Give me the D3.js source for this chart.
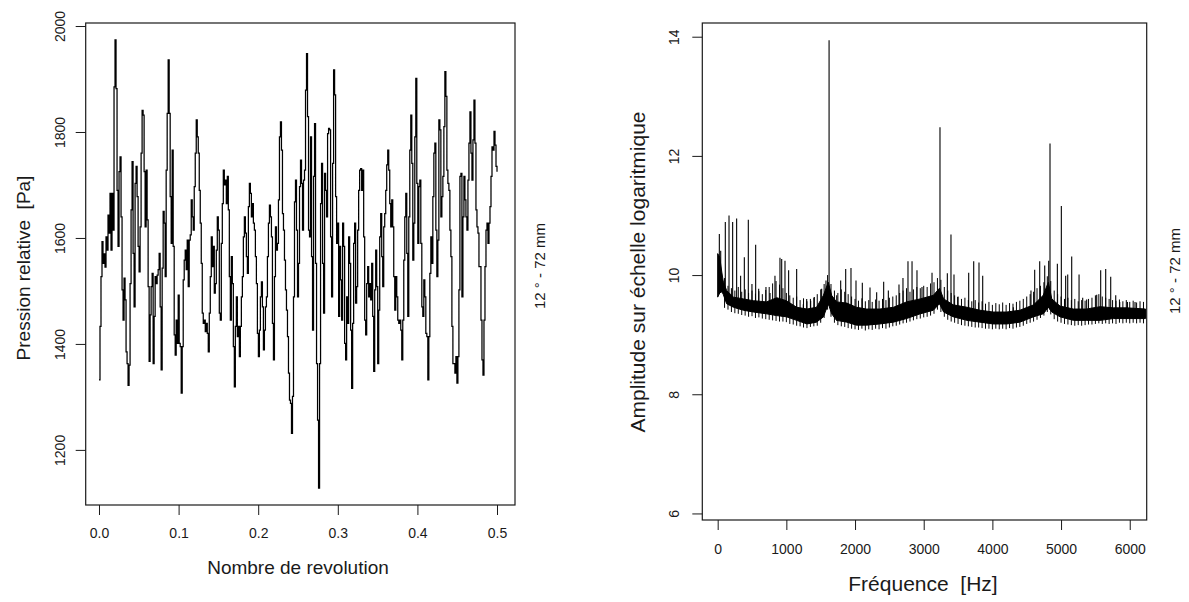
<!DOCTYPE html>
<html><head><meta charset="utf-8">
<script src="https://cdn.jsdelivr.net/npm/d3@7"></script>
<style>
body{margin:0;background:#fff}
text{font-family:"Liberation Sans",Arial,sans-serif;fill:#1a1a1a}
</style>
</head><body>
<svg id="c" width="1189" height="602"></svg>
<script>
// ---------- Left panel data: relative pressure vs revolutions (regular sampling) ----------
const pressure = [
1332,1433,1527,1593,1552,1570,1545,1602,1577,1643,1609,1684,1577,1684,1615,1885,1974,1882,1690,1584,1725,1753,1640,1502,1445,1524,1483,1385,1363,1322,1360,1514,1653,1744,1571,1470,1703,1735,1678,1584,1536,1621,1760,1841,1832,1725,1621,1728,1634,1508,1367,1455,1508,1533,1363,1452,1527,1514,1530,1540,1571,1470,1351,1543,1650,1628,1527,1728,1835,1936,1835,1678,1590,1766,1584,1417,1379,1445,1401,1492,1401,1395,1307,1395,1521,1558,1577,1540,1596,1508,1596,1606,1672,1640,1615,1697,1760,1823,1791,1760,1690,1628,1552,1458,1439,1445,1423,1439,1420,1385,1458,1527,1602,1546,1584,1496,1514,1577,1640,1615,1458,1445,1590,1665,1728,1700,1709,1665,1716,1653,1527,1445,
1565,1514,1395,1319,1433,1489,1414,1433,1376,1433,1489,1527,1602,1640,1609,1565,1533,1659,1703,1684,1640,1665,1628,1615,1565,1514,1420,1376,1426,1489,1517,1470,1389,1426,1470,1489,1565,1628,1662,1640,1602,1439,1370,1527,1621,1577,1590,1672,1791,1819,1766,1646,1615,1558,1502,1464,1414,1345,1294,1288,1231,1301,1489,1668,1709,1615,1489,1552,1697,1747,1703,1615,1709,1728,1879,1948,1829,1615,1602,1791,1565,1426,1716,1816,1552,1363,1256,1128,1363,1665,1741,1552,1458,1722,1690,1640,1797,1807,1804,1602,1489,1741,1917,1870,1678,1590,1628,1452,1584,1521,1445,1628,1584,1401,1370,1489,1439,1602,1552,1426,1316,1439,1590,1628,1477,1508,1615,1690,1728,1731,1690,1728,1602,1445,1417,1514,1546,1489,1514,1483,
1552,1452,1348,1502,1577,1508,1363,1464,1602,1646,1565,1508,1621,1646,1690,1738,1766,1728,1665,1621,1672,1621,1527,1464,1527,1489,1445,1439,1445,1426,1370,1445,1558,1640,1684,1571,1452,1640,1766,1832,1741,1558,1628,1791,1901,1703,1590,1697,1709,1590,1470,1452,1521,1489,1420,1414,1332,1414,1533,1602,1552,1678,1760,1779,1615,1527,1596,1823,1804,1640,1678,1716,1810,1914,1867,1728,1703,1690,1615,1565,1433,1363,1363,1345,1376,1326,1376,1502,1716,1722,1489,1640,1716,1672,1640,1615,1709,1779,1838,1760,1709,1785,1860,1779,1653,1621,1609,1546,1546,1445,1370,1341,1445,1546,1615,1628,1590,1628,1659,1716,1772,1766,1801,1775,1735,1725
];
const revStart = 0, revEnd = 0.5;
const leftXTicks = [0, 0.1, 0.2, 0.3, 0.4, 0.5];
const leftYTicks = [1200, 1400, 1600, 1800, 2000];
const leftXLabel = "Nombre de revolution";
const leftYLabel = "Pression relative  [Pa]";

// ---------- Right panel data: log amplitude spectrum ----------
const bandFreq = [0,30,60,80,130,230,375,520,710,860,1000,1150,1300,1440,1540,1610,1660,1730,1880,2020,2170,2360,2560,2750,2950,3140,3230,3290,3430,3630,3820,4010,4210,4400,4600,4740,4815,4865,4985,5180,5370,5570,5760,5960,6230];
const bandLow  = [9.63,9.70,9.72,9.68,9.52,9.46,9.41,9.38,9.35,9.32,9.30,9.24,9.18,9.21,9.30,9.52,9.35,9.24,9.21,9.16,9.16,9.18,9.21,9.27,9.35,9.41,9.52,9.38,9.30,9.24,9.21,9.18,9.18,9.21,9.30,9.35,9.46,9.38,9.30,9.24,9.24,9.24,9.27,9.27,9.27];
const bandHigh = [10.36,10.30,10.05,9.90,9.74,9.63,9.60,9.57,9.55,9.62,9.57,9.46,9.43,9.46,9.66,9.88,9.66,9.55,9.53,9.46,9.43,9.43,9.46,9.55,9.60,9.66,9.78,9.60,9.50,9.46,9.41,9.38,9.38,9.41,9.50,9.66,9.88,9.60,9.48,9.43,9.43,9.47,9.45,9.45,9.43];
// fine texture of the noisy band (every 50 Hz from 100 Hz): upper and lower excursions
const minorFreqStart = 100, minorFreqStep = 50;
const minorHigh = [9.95,9.82,9.78,9.74,9.80,9.72,9.76,9.70,9.74,9.69,9.73,9.68,9.75,9.80,9.86,9.90,9.84,9.78,9.70,9.66,9.62,9.64,9.58,9.61,9.56,9.60,9.62,9.68,9.76,9.85,10.0,9.85,9.74,9.70,9.76,9.72,9.68,9.64,9.60,9.57,9.61,9.56,9.58,9.55,9.59,9.57,9.60,9.58,9.62,9.64,9.66,9.70,9.74,9.78,9.72,9.76,9.80,9.78,9.82,9.80,9.86,9.88,9.95,9.92,9.80,9.74,9.70,9.66,9.64,9.60,9.62,9.58,9.56,9.58,9.54,9.56,9.52,9.55,9.50,9.53,9.51,9.54,9.50,9.53,9.52,9.55,9.57,9.60,9.64,9.68,9.72,9.78,9.82,9.88,9.98,9.90,9.74,9.68,9.64,9.60,9.62,9.58,9.60,9.56,9.58,9.57,9.60,9.62,9.66,9.68,9.64,9.62,9.60,9.58,9.57,9.59,9.56,9.58,9.55,9.57,9.54,9.56,9.55];
const minorLow  = [9.45,9.42,9.38,9.36,9.35,9.33,9.32,9.30,9.31,9.28,9.29,9.27,9.26,9.25,9.24,9.23,9.22,9.22,9.21,9.18,9.17,9.15,9.14,9.12,9.11,9.13,9.14,9.15,9.20,9.28,9.42,9.30,9.20,9.16,9.14,9.13,9.11,9.10,9.09,9.08,9.10,9.07,9.09,9.08,9.10,9.09,9.11,9.10,9.12,9.14,9.15,9.17,9.19,9.20,9.22,9.24,9.26,9.27,9.29,9.30,9.32,9.35,9.42,9.38,9.30,9.25,9.22,9.20,9.18,9.16,9.15,9.14,9.13,9.12,9.12,9.11,9.10,9.10,9.09,9.10,9.09,9.10,9.09,9.11,9.10,9.12,9.13,9.15,9.18,9.20,9.22,9.25,9.28,9.32,9.38,9.34,9.26,9.22,9.20,9.18,9.17,9.16,9.15,9.16,9.15,9.16,9.17,9.17,9.18,9.19,9.18,9.19,9.18,9.19,9.18,9.20,9.19,9.20,9.19,9.20,9.19,9.20,9.19];
const spikeFreq = [24,44,111,165,218,276,334,388,446,499,553,597,703,762,834,907,932,980,1033,1150,1247,1296,1354,1407,1514,1577,1622,1733,1791,1864,1941,2014,2106,2218,2315,2417,2485,2640,2698,2771,2830,2902,2975,3121,3237,3344,3397,3441,3495,3655,3728,3805,3859,4305,4562,4616,4689,4762,4820,4839,4946,5004,5067,5097,5155,5262,5315,5373,5519,5577,5650,5723,5796,5854,5966,6077];
const spikeAmp  = [10.69,10.41,10.89,11.0,10.89,10.95,9.99,10.30,10.93,9.85,10.51,9.77,9.80,9.70,9.99,10.29,10.27,10.24,10.08,10.10,9.51,9.60,9.57,9.63,9.77,9.91,13.94,9.66,9.91,10.10,10.12,9.91,9.87,9.79,9.71,9.89,9.74,9.84,9.95,10.23,10.23,10.08,9.80,10.04,12.48,10.03,10.68,10.01,9.63,10.04,10.23,10.21,9.99,9.46,9.74,10.09,10.23,10.16,10.24,12.21,10.19,11.16,9.99,10.01,10.31,10.01,9.62,9.59,9.67,10.08,10.10,9.97,9.66,9.55,9.55,9.55];
const rightXTicks = [0,1000,2000,3000,4000,5000,6000];
const rightYTicks = [6,8,10,12,14];
const rightXLabel = "Fréquence  [Hz]";
const rightYLabel = "Amplitude sur échelle logaritmique";
const sideNote = "12 ° - 72 mm";

const svg = d3.select("#c");
const ink = "#1a1a1a";

function styleAxis(g){
  g.select(".domain").remove();
  g.selectAll(".tick line").attr("stroke", ink).attr("stroke-width", 1);
  g.selectAll(".tick text").style("font-size","14px").attr("fill", ink);
}
function box(x0,y0,x1,y1){
  svg.append("rect").attr("x",x0).attr("y",y0).attr("width",x1-x0).attr("height",y1-y0)
    .attr("fill","none").attr("stroke",ink).attr("stroke-width",1.2);
}

// ===== LEFT PANEL =====
const L = {x0:85.7, x1:515, y0:23, y1:505};
const xL = d3.scaleLinear().domain([-0.0167, 0.5226]).range([L.x0, L.x1]);
const yL = d3.scaleLinear().domain([1096, 2005.7]).range([L.y1, L.y0]);
const dt = (revEnd - revStart) / (pressure.length - 1);
const lineL = d3.line().x((d,i)=>xL(revStart + i*dt)).y(d=>yL(d)).curve(d3.curveStepAfter);
svg.append("path").datum(pressure).attr("d", lineL).attr("fill","none").attr("stroke","#000").attr("stroke-width",1.25);
box(L.x0,L.y0,L.x1,L.y1);

const gxL = svg.append("g").attr("transform",`translate(0,${L.y1})`)
  .call(d3.axisBottom(xL).tickValues(leftXTicks).tickFormat(d3.format(".1f")).tickSize(10).tickSizeOuter(0));
styleAxis(gxL);
gxL.selectAll(".tick text").attr("y",33).attr("dy",0);

const gyL = svg.append("g").attr("transform",`translate(${L.x0},0)`)
  .call(d3.axisLeft(yL).tickValues(leftYTicks).tickFormat(d3.format("d")).tickSize(10).tickSizeOuter(0));
styleAxis(gyL);
gyL.selectAll(".tick text").attr("x",0).attr("dy",0).attr("text-anchor","middle").attr("transform","translate(-21,0) rotate(-90)");

svg.append("text").attr("x",298).attr("y",574).attr("text-anchor","middle").style("font-size","19px").text(leftXLabel);
svg.append("text").attr("transform","translate(30,268) rotate(-90)").attr("text-anchor","middle")
  .style("font-size","19px").style("white-space","pre").text(leftYLabel);
svg.append("text").attr("transform","translate(545,266) rotate(-90)").attr("text-anchor","middle")
  .style("font-size","15px").text(sideNote);

// ===== RIGHT PANEL =====
const R = {x0:702.3, x1:1146.7, y0:23, y1:520};
const xR = d3.scaleLinear().domain([-224, 6247]).range([R.x0, R.x1]);
const yR = d3.scaleLinear().domain([5.89, 14.23]).range([R.y1, R.y0]);
const bandIdx = d3.range(bandFreq.length);
const area = d3.area().x(i=>xR(bandFreq[i])).y0(i=>yR(bandLow[i])).y1(i=>yR(bandHigh[i]));
svg.append("path").datum(bandIdx).attr("d", area).attr("fill","#000").attr("stroke","#000").attr("stroke-width",1);
// texture comb
svg.append("g").selectAll("line").data(d3.range(minorHigh.length)).join("line")
  .attr("x1",i=>xR(minorFreqStart + i*minorFreqStep)).attr("x2",i=>xR(minorFreqStart + i*minorFreqStep))
  .attr("y1",i=>yR(minorLow[i])).attr("y2",i=>yR(minorHigh[i]))
  .attr("stroke","#000").attr("stroke-width",1);
const baseAt = d3.scaleLinear().domain(bandFreq).range(bandLow);
svg.append("g").selectAll("line").data(d3.range(spikeFreq.length)).join("line")
  .attr("x1",i=>xR(spikeFreq[i])).attr("x2",i=>xR(spikeFreq[i]))
  .attr("y1",i=>yR(baseAt(spikeFreq[i]))).attr("y2",i=>yR(spikeAmp[i]))
  .attr("stroke","#000").attr("stroke-width",1.1);
box(R.x0,R.y0,R.x1,R.y1);

const gxR = svg.append("g").attr("transform",`translate(0,${R.y1})`)
  .call(d3.axisBottom(xR).tickValues(rightXTicks).tickFormat(d3.format("d")).tickSize(10).tickSizeOuter(0));
styleAxis(gxR);
gxR.selectAll(".tick text").attr("y",34).attr("dy",0);

const gyR = svg.append("g").attr("transform",`translate(${R.x0},0)`)
  .call(d3.axisLeft(yR).tickValues(rightYTicks).tickSize(10).tickSizeOuter(0));
styleAxis(gyR);
gyR.selectAll(".tick text").attr("x",0).attr("dy",0).attr("text-anchor","middle").attr("transform","translate(-23,0) rotate(-90)");

svg.append("text").attr("x",923).attr("y",591).attr("text-anchor","middle").style("font-size","21px").style("white-space","pre").text(rightXLabel);
svg.append("text").attr("transform","translate(645,272) rotate(-90)").attr("text-anchor","middle")
  .style("font-size","21px").text(rightYLabel);
svg.append("text").attr("transform","translate(1180,271) rotate(-90)").attr("text-anchor","middle")
  .style("font-size","15px").text(sideNote);
</script>
</body></html>
